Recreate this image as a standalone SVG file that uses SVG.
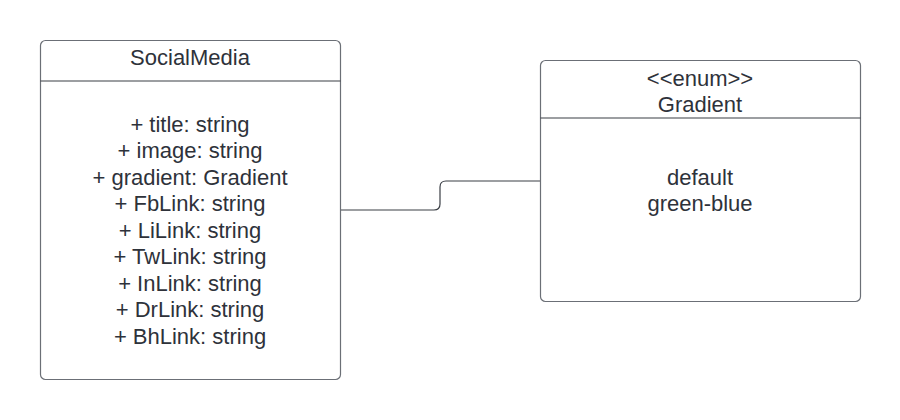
<svg xmlns="http://www.w3.org/2000/svg" width="900" height="420" viewBox="0 0 900 420">
  <style>
    .box { fill: #ffffff; stroke: #6b6f76; stroke-width: 1.2; }
    .sep { stroke: #3a3e45; stroke-width: 1.2; }
    .txt { font-family: "Liberation Sans", Arial, sans-serif; font-size: 22px; fill: #2e323a; text-anchor: middle; }
    .link { fill: none; stroke: #3a3e45; stroke-width: 1.2; }
  </style>
  <rect width="900" height="420" fill="#ffffff"/>

  <g id="connectors">
    <path class="link" d="M341 210 H434 Q440 210 440 204 V187 Q440 181 446 181 H540"/>
  </g>

  <g id="SocialMedia">
    <rect class="box" x="40.5" y="40.5" width="300" height="339" rx="5"/>
    <line class="sep" x1="40.5" y1="81" x2="340.5" y2="81"/>
    <text class="txt" x="190" y="65">SocialMedia</text>
    <text class="txt" x="190" y="131.5">+ title: string</text>
    <text class="txt" x="190" y="158">+ image: string</text>
    <text class="txt" x="190" y="184.5">+ gradient: Gradient</text>
    <text class="txt" x="190" y="211">+ FbLink: string</text>
    <text class="txt" x="190" y="237.5">+ LiLink: string</text>
    <text class="txt" x="190" y="264">+ TwLink: string</text>
    <text class="txt" x="190" y="290.5">+ InLink: string</text>
    <text class="txt" x="190" y="317">+ DrLink: string</text>
    <text class="txt" x="190" y="343.5">+ BhLink: string</text>
  </g>

  <g id="Gradient">
    <rect class="box" x="540.5" y="60.5" width="320" height="241" rx="5"/>
    <line class="sep" x1="540.5" y1="118" x2="860.5" y2="118"/>
    <text class="txt" x="700" y="85.5">&lt;&lt;enum&gt;&gt;</text>
    <text class="txt" x="700" y="111.5">Gradient</text>
    <text class="txt" x="700" y="184.5">default</text>
    <text class="txt" x="700" y="211">green-blue</text>
  </g>
</svg>
